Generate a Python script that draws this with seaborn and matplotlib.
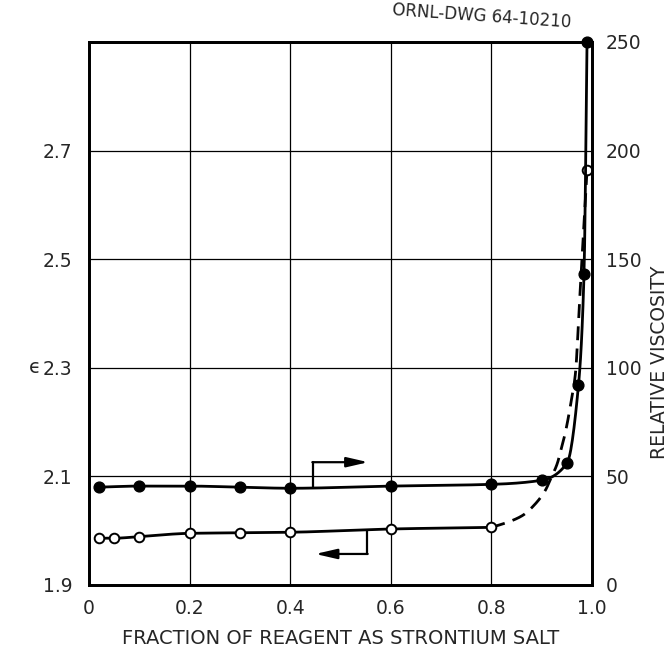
import numpy as np
import pandas as pd
import matplotlib
matplotlib.use("Agg")
import matplotlib.pyplot as plt
import seaborn as sns

# relative viscosity (filled circles, right axis)
visc_x = [0.02, 0.1, 0.2, 0.3, 0.4, 0.6, 0.8, 0.9, 0.95, 0.973, 0.984, 0.99]
visc_y = [45.0, 45.5, 45.5, 45.0, 44.5, 45.5, 46.3, 48.2, 56.0, 92.0, 143.0, 250.0]

# dielectric constant (open circles, left axis)
eps_x = [0.02, 0.05, 0.1, 0.2, 0.3, 0.4, 0.6, 0.8, 0.99]
eps_y = [1.986, 1.986, 1.989, 1.995, 1.996, 1.997, 2.003, 2.006, 2.665]

# dashed part of the epsilon curve
eps_dash_x = [0.8, 0.834, 0.862, 0.886, 0.907, 0.918, 0.931, 0.939, 0.946,
              0.957, 0.967, 0.975, 0.98, 0.985, 0.99]
eps_dash_y = [2.006, 2.016, 2.028, 2.048, 2.074, 2.096, 2.124, 2.152, 2.177,
              2.23, 2.29, 2.42, 2.5, 2.58, 2.665]

x_ticks = [0, 0.2, 0.4, 0.6, 0.8, 1.0]
x_labels = ["0", "0.2", "0.4", "0.6", "0.8", "1.0"]
eps_ticks = [1.9, 2.1, 2.3, 2.5, 2.7]
visc_ticks = [0, 50, 100, 150, 200, 250]


def pchip(x, y, xs):
    # monotone cubic through the points, just to draw a smooth pen line
    x = np.asarray(x, float)
    y = np.asarray(y, float)
    h = np.diff(x)
    d = np.diff(y) / h
    m = np.zeros_like(y)
    m[0], m[-1] = d[0], d[-1]
    for k in range(1, len(x) - 1):
        if d[k - 1] * d[k] > 0:
            w1 = 2 * h[k] + h[k - 1]
            w2 = h[k] + 2 * h[k - 1]
            m[k] = (w1 + w2) / (w1 / d[k - 1] + w2 / d[k])
    i = np.clip(np.searchsorted(x, xs) - 1, 0, len(x) - 2)
    t = (xs - x[i]) / h[i]
    h00 = 2 * t**3 - 3 * t**2 + 1
    h10 = t**3 - 2 * t**2 + t
    h01 = -2 * t**3 + 3 * t**2
    h11 = t**3 - t**2
    return h00 * y[i] + h10 * h[i] * m[i] + h01 * y[i + 1] + h11 * h[i] * m[i + 1]


sns.set_style("white")
plt.rcParams["font.family"] = ["DejaVu Sans"]

fig = plt.figure(figsize=(6.69, 6.55), dpi=100)
ax = fig.add_axes([0.133, 0.107, 0.752, 0.829])
ax2 = ax.twinx()

# curves
xs = np.linspace(visc_x[0], visc_x[-1], 600)
visc_line = pd.DataFrame({"x": xs, "y": pchip(visc_x, visc_y, xs)})
sns.lineplot(data=visc_line, x="x", y="y", ax=ax2, color="black", lw=2.0,
             estimator=None, sort=False)

xs = np.linspace(eps_x[0], eps_x[-2], 300)
eps_line = pd.DataFrame({"x": xs, "y": pchip(eps_x[:-1], eps_y[:-1], xs)})
sns.lineplot(data=eps_line, x="x", y="y", ax=ax, color="black", lw=2.0,
             estimator=None, sort=False)

xs = np.linspace(eps_dash_x[0], eps_dash_x[-1], 400)
dash_line = pd.DataFrame({"x": xs, "y": pchip(eps_dash_x, eps_dash_y, xs)})
sns.lineplot(data=dash_line, x="x", y="y", ax=ax, color="black", lw=2.0,
             estimator=None, sort=False, linestyle=(0, (5, 3)))

# markers
sns.scatterplot(x=visc_x, y=visc_y, ax=ax2, color="black", s=60,
                edgecolor="black", linewidth=1, zorder=5, clip_on=False)
sns.scatterplot(x=eps_x, y=eps_y, ax=ax, color="white", s=48,
                edgecolor="black", linewidth=1.4, zorder=5, clip_on=False)

# bracket arrows pointing to the axis each curve belongs to
ax2.plot([0.445, 0.445], [45.0, 56.5], color="black", lw=1.6)
ax2.annotate("", xy=(0.555, 56.5), xytext=(0.444, 56.5),
             arrowprops=dict(arrowstyle="-|>,head_length=1.3,head_width=0.3",
                             color="black", lw=1.6, shrinkA=0, shrinkB=0))
ax.plot([0.553, 0.553], [2.0, 1.957], color="black", lw=1.6)
ax.annotate("", xy=(0.45, 1.957), xytext=(0.554, 1.957),
            arrowprops=dict(arrowstyle="-|>,head_length=1.3,head_width=0.3",
                            color="black", lw=1.6, shrinkA=0, shrinkB=0))

# axes, grid
ax.set_xlim(0, 1.0)
ax.set_ylim(1.9, 2.9)
ax2.set_ylim(0, 250)
ax.set_xticks(x_ticks)
ax.set_xticklabels(x_labels)
ax.set_yticks(eps_ticks + [2.9])
ax.set_yticklabels([f"{v:.1f}" for v in eps_ticks] + [""])
ax2.set_yticks(visc_ticks)
ax.grid(True, color="black", lw=0.9)
ax2.grid(False)
ax.tick_params(axis="both", length=0, labelsize=13.5)
ax.tick_params(axis="x", pad=10)
ax.tick_params(axis="y", pad=12)
ax2.tick_params(axis="y", length=0, labelsize=13.5, pad=10)
for a in (ax, ax2):
    for sp in a.spines.values():
        sp.set_color("black")
        sp.set_linewidth(2)

ax.set_xlabel("FRACTION OF REAGENT AS STRONTIUM SALT", fontsize=14, labelpad=8)
ax.set_ylabel("ϵ", fontsize=14, rotation=0, va="center", ha="center")
ax.yaxis.set_label_coords(-0.107, 0.4)
ax2.set_ylabel("RELATIVE VISCOSITY", fontsize=13.5, rotation=90, va="center")
ax2.yaxis.set_label_coords(1.135, 0.41)

fig.text(0.72, 0.975, "ORNL-DWG 64-10210", fontsize=12, rotation=-4,
         ha="center", va="center")

fig.savefig("out.png", dpi=100)
